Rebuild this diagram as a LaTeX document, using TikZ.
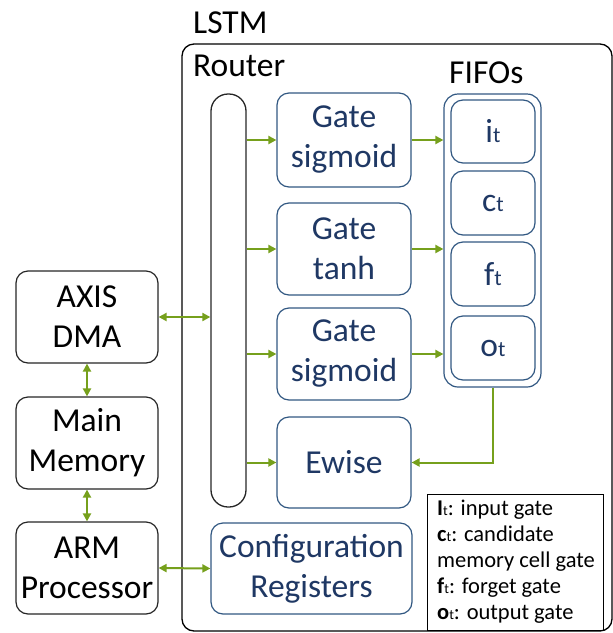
\documentclass[tikz,border=0pt]{standalone}
\usepackage{fontspec}
\setmainfont{Carlito}
\usetikzlibrary{arrows.meta}
\definecolor{flow}{RGB}{118,160,28}
\definecolor{navy}{RGB}{31,56,100}
\definecolor{edgeblue}{RGB}{50,88,130}
\newcommand\legsub{{\fontsize{14}{14}\selectfont t}}
\newcommand\fifosub{{\fontsize{22}{22}\selectfont t}}
\tikzset{
  bigtext/.style={font=\fontsize{33.5}{40}\selectfont},
  plainbox/.style={draw=black!85, line width=1.2pt, rounded corners=12pt, fill=white,
    align=center, bigtext, inner sep=0pt},
  bluebox/.style={draw=edgeblue, line width=1.2pt, rounded corners=12pt, fill=white,
    align=center, text=navy, bigtext, inner sep=0pt},
  link/.style={draw=flow, line width=2pt, -{Triangle[length=8pt,width=8pt]}},
  bilink/.style={draw=flow, line width=2pt,
    {Triangle[length=8pt,width=8pt]}-{Triangle[length=8pt,width=8pt]}},
}
\begin{document}
\begin{tikzpicture}[x=1pt,y=-1pt]
\useasboundingbox (0,0) rectangle (613,633);

% LSTM enclosure
\draw[black, line width=1.3pt, rounded corners=12pt] (182,44) rectangle (612,631);
\node[bigtext, anchor=base west, inner sep=0pt] (lstmlabel) at (193,33) {LSTM};
\node[bigtext, anchor=base west, inner sep=0pt] (routerlabel) at (193,76) {Router};
\node[bigtext, anchor=base west, inner sep=0pt] (fifolabel) at (449,83) {FIFOs};

% host side
\node[plainbox, minimum width=142pt, minimum height=92pt] (axis) at (87,317) {AXIS\\DMA};
\node[plainbox, minimum width=142pt, minimum height=92pt] (mem) at (87,443) {Main\\Memory};
\node[plainbox, minimum width=142pt, minimum height=92pt] (arm) at (87,568) {ARM\\Processor};

% router bar
\node[draw=black!85, line width=1.3pt, rounded corners=17pt, minimum width=35pt,
  minimum height=413pt, inner sep=0pt] (router) at (228.5,300.5) {};

% gate units
\node[bluebox, minimum width=134pt, minimum height=94pt] (g1) at (344,140) {Gate\\sigmoid};
\node[bluebox, minimum width=134pt, minimum height=92pt] (g2) at (344,249) {Gate\\tanh};
\node[bluebox, minimum width=134pt, minimum height=92pt] (g3) at (344,354) {Gate\\sigmoid};
\node[bluebox, minimum width=134pt, minimum height=91pt] (ewise) at (344,462.5) {Ewise};
\node[bluebox, minimum width=201pt, minimum height=91pt] (config) at (311.5,568.5)
  {Configuration\\Registers};

% FIFO stack
\node[draw=edgeblue, line width=1.2pt, rounded corners=14pt, minimum width=97pt,
  minimum height=293pt, inner sep=0pt] (fifo) at (492.5,240.5) {};
\node[bluebox, minimum width=84pt, minimum height=63pt] (fi) at (493,131.5) {i\fifosub};
\node[bluebox, minimum width=84pt, minimum height=64pt] (fc) at (493,203) {c\fifosub};
\node[bluebox, minimum width=84pt, minimum height=64pt] (ff) at (493,274) {f\fifosub};
\node[bluebox, minimum width=84pt, minimum height=64pt] (fo) at (493,348) {o\fifosub};

% legend (box, then text anchored at the baseline of its last line)
\node[draw=black, line width=1pt, anchor=north west, minimum width=176pt,
  minimum height=136pt, inner sep=0pt] (legend) at (427,494) {};
\node[anchor=base west, inner sep=0pt, align=left,
  font=\fontsize{22.5}{26}\selectfont] (legendtext) at (437,619)
  {\textbf{I}\legsub: input gate\\
   \textbf{c}\legsub: candidate\\
   memory cell gate\\
   \textbf{f}\legsub: forget gate\\
   \textbf{o}\legsub: output gate};

% router to units
\draw[link] (g1.west -| router.east) -- (g1.west);
\draw[link] (g2.west -| router.east) -- (g2.west);
\draw[link] (g3.west -| router.east) -- (g3.west);
\draw[link] (ewise.west -| router.east) -- (ewise.west);

% gates into FIFOs
\draw[link] (g1.east) -- (g1.east -| fifo.west);
\draw[link] (g2.east) -- (g2.east -| fifo.west);
\draw[link] (g3.east) -- (g3.east -| fifo.west);

% FIFO output back to Ewise
\draw[link] (fifo.south) |- (ewise.east);

% host links
\draw[bilink] (axis.east) -- (axis.east -| router.west);
\draw[bilink] (axis.south) -- (mem.north);
\draw[bilink] (mem.south) -- (arm.north);
\draw[bilink] (arm.east) -- (config.west);
\end{tikzpicture}
\end{document}
